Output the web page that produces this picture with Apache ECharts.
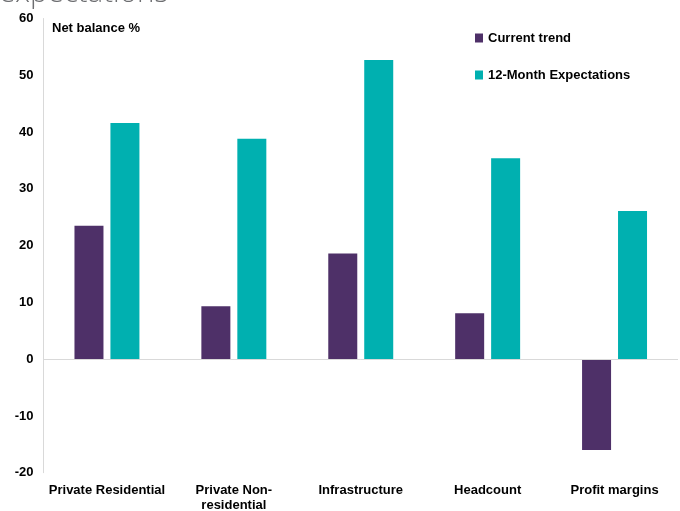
<!DOCTYPE html>
<html>
<head>
<meta charset="utf-8">
<script src="https://cdn.jsdelivr.net/npm/echarts@6/dist/echarts.min.js"></script>
<style>
html,body{margin:0;padding:0;background:#fff;}
#c{width:680px;height:511px;}
</style>
</head>
<body>
<div id="c"></div>
<script>
const categories = ['Private Residential', 'Private Non-\nresidential', 'Infrastructure', 'Headcount', 'Profit margins'];
const currentTrend = [23.5, 9.3, 18.6, 8.1, -16.0];
const expectations = [41.6, 38.8, 52.7, 35.4, 26.1];
const seriesNames = ['Current trend', '12-Month Expectations'];
const yTicks = { min: -20, max: 60, interval: 10 };

const FONT = "'Liberation Sans', Arial, sans-serif";
const chart = echarts.init(document.getElementById('c'), null, { renderer: 'canvas' });
chart.setOption({
  animation: false,
  backgroundColor: '#ffffff',
  textStyle: { fontFamily: FONT },
  grid: { left: 43.5, right: 2, top: 18.5, bottom: 38.3, containLabel: false, outerBoundsMode: 'none' },
  graphic: [
    { type: 'text', z: 10, x: -1, y: -6,
      style: { text: 'expectations', x: 0, y: 0, verticalAlign: 'middle', align: 'left',
        fontFamily: "'Open Sans', sans-serif", fontWeight: 300, fontSize: 29.5, fill: '#6d6e71' } },
    { type: 'rect', z: 11, shape: { x: 34, y: 7.5, width: 20, height: 7 }, style: { fill: '#ffffff' } },
    { type: 'text', left: 52, top: 21.5, z: 10,
      style: { text: 'Net balance %', fontFamily: FONT, fontWeight: 'bold', fontSize: 13, fill: '#000000' } }
  ],
  legend: {
    orient: 'vertical', left: 475, top: 31.5, itemGap: 24, padding: 0,
    icon: 'rect', itemWidth: 8, itemHeight: 9,
    textStyle: { fontFamily: FONT, fontWeight: 'bold', fontSize: 13, color: '#000000' },
    data: seriesNames
  },
  xAxis: {
    type: 'category', data: categories,
    axisLine: { show: false }, axisTick: { show: false },
    axisLabel: { fontFamily: FONT, fontWeight: 'bold', fontSize: 13, color: '#000000', margin: 10, lineHeight: 15, interval: 0 }
  },
  yAxis: {
    type: 'value', min: yTicks.min, max: yTicks.max, interval: yTicks.interval,
    axisLine: { show: true, lineStyle: { color: '#d9d9d9', width: 1 } },
    axisTick: { show: false }, splitLine: { show: false },
    axisLabel: { fontFamily: FONT, fontWeight: 'bold', fontSize: 13, color: '#000000', margin: 10 }
  },
  series: [
    { name: seriesNames[0], type: 'bar', data: currentTrend, barWidth: 29, barGap: '24%',
      itemStyle: { color: '#4e3068' },
      markLine: { silent: true, symbol: 'none', label: { show: false },
        lineStyle: { color: '#d9d9d9', width: 1, type: 'solid' }, data: [{ yAxis: 0 }] } },
    { name: seriesNames[1], type: 'bar', data: expectations, barWidth: 29, barGap: '24%',
      itemStyle: { color: '#00b0b0' } }
  ]
});
</script>
</body>
</html>
